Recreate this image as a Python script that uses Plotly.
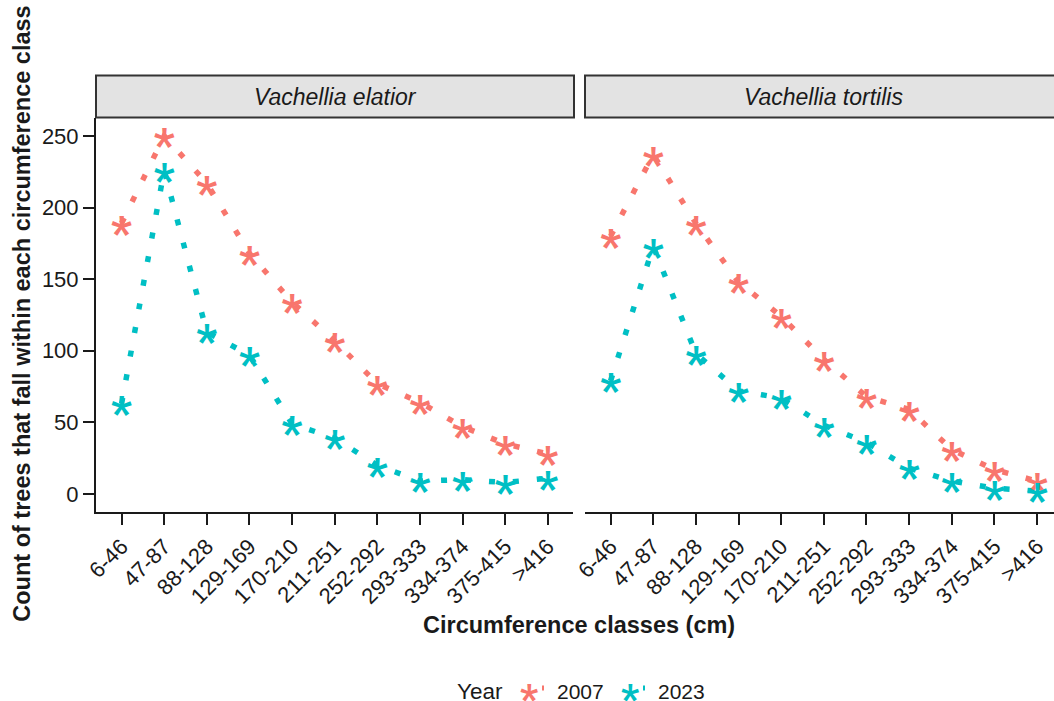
import plotly.graph_objects as go

# Circumference classes (cm) and tree counts per species and survey year
classes = ["6-46", "47-87", "88-128", "129-169", "170-210", "211-251",
           "252-292", "293-333", "334-374", "375-415", ">416"]
species = ["Vachellia elatior", "Vachellia tortilis"]
years = ["2007", "2023"]
elatior_2007 = [189, 250, 217, 168, 134, 107, 77, 64, 47, 35, 28]
elatior_2023 = [63, 226, 113, 97, 49, 39, 20, 9, 10, 8, 11]
tortilis_2007 = [180, 237, 189, 148, 124, 94, 68, 59, 31, 17, 9]
tortilis_2023 = [79, 173, 98, 72, 67, 48, 36, 18, 9, 4, 2]
y_ticks = [0, 50, 100, 150, 200, 250]

colors = {"2007": "#F8766D", "2023": "#00BFC4"}
series = {
    ("Vachellia elatior", "2007"): elatior_2007,
    ("Vachellia elatior", "2023"): elatior_2023,
    ("Vachellia tortilis", "2007"): tortilis_2007,
    ("Vachellia tortilis", "2023"): tortilis_2023,
}

W, H = 1054, 701
FONT = "Liberation Sans, Arial, sans-serif"
GLYPH_FONT = "Roboto, sans-serif"
INK = "#1a1a1a"

# panel geometry in pixels
left_x0, left_x1 = 96, 573.3
right_x0 = 585
cat_px = 42.65
plot_top, plot_bot = 117.5, 512
y_lo, y_hi = -12.6, 262.9

# the asterisk glyph sits above its text anchor; shift its axis down
GLYPH_SIZE = 46
glyph_lift_px = 0.30 * GLYPH_SIZE
glyph_shift = glyph_lift_px * (y_hi - y_lo) / (plot_bot - plot_top)


def px(x):
    return x / W


def py(y):
    return 1 - y / H


fig = go.Figure()

axis_pairs = {
    "Vachellia elatior": ("x", "y", "y3"),
    "Vachellia tortilis": ("x2", "y2", "y4"),
}

for sp in species:
    xa, ya, ya_glyph = axis_pairs[sp]
    for yr in years:
        vals = series[(sp, yr)]
        fig.add_trace(go.Scatter(
            x=classes, y=vals, mode="lines", xaxis=xa, yaxis=ya,
            line=dict(color=colors[yr], width=5.5, dash="6px,18px"),
            showlegend=False, hoverinfo="skip",
        ))
        fig.add_trace(go.Scatter(
            x=classes, y=vals, mode="text", xaxis=xa, yaxis=ya_glyph,
            text=["*"] * len(vals), textposition="middle center",
            textfont=dict(family=GLYPH_FONT, size=GLYPH_SIZE, color=colors[yr],
                          weight="bold"),
            cliponaxis=False, showlegend=False,
            name=yr, hovertemplate="%{x}: %{y}<extra>" + yr + "</extra>",
        ))

n = len(classes)
tick_font = dict(family=FONT, size=22, color=INK)
x_common = dict(
    type="category", categoryorder="array", categoryarray=classes,
    showline=True, linecolor=INK, linewidth=2,
    ticks="outside", ticklen=11, tickwidth=2, tickcolor=INK,
    tickangle=-45, tickfont=tick_font, showgrid=False, zeroline=False,
    fixedrange=True, automargin=False,
)
right_span = (W - right_x0) / cat_px

fig.update_layout(
    width=W, height=H,
    margin=dict(l=0, r=0, t=0, b=0, autoexpand=False),
    paper_bgcolor="white", plot_bgcolor="white",
    showlegend=False,
    xaxis=dict(x_common, domain=[px(left_x0), px(left_x1)], range=[-0.6, n - 0.4], anchor="y"),
    xaxis2=dict(x_common, domain=[px(right_x0), 1.0], range=[-0.6, -0.6 + right_span], anchor="y2"),
    yaxis=dict(
        domain=[py(plot_bot), py(plot_top)], range=[y_lo, y_hi], anchor="x",
        showline=True, linecolor=INK, linewidth=2,
        ticks="outside", ticklen=11, tickwidth=2, tickcolor=INK,
        tickvals=y_ticks, tickfont=tick_font, showgrid=False, zeroline=False,
        fixedrange=True, automargin=False,
    ),
    yaxis2=dict(
        domain=[py(plot_bot), py(plot_top)], range=[y_lo, y_hi], anchor="x2",
        showline=False, showticklabels=False, ticks="", showgrid=False,
        zeroline=False, fixedrange=True, automargin=False,
    ),
    yaxis3=dict(overlaying="y", range=[y_lo + glyph_shift, y_hi + glyph_shift],
                visible=False, fixedrange=True, automargin=False),
    yaxis4=dict(overlaying="y2", range=[y_lo + glyph_shift, y_hi + glyph_shift],
                visible=False, fixedrange=True, automargin=False),
)

# facet strips
strip_top, strip_bot = 75.5, 117.5
shapes = [
    dict(type="rect", xref="paper", yref="paper",
         x0=px(left_x0), x1=px(574), y0=py(strip_bot), y1=py(strip_top),
         fillcolor="#E3E3E3", line=dict(color="#333333", width=2), layer="below"),
    dict(type="rect", xref="paper", yref="paper",
         x0=px(right_x0), x1=px(W + 20), y0=py(strip_bot), y1=py(strip_top),
         fillcolor="#E3E3E3", line=dict(color="#333333", width=2), layer="below"),
]

annotations = []
strip_centers = [(left_x0 + 574) / 2, (right_x0 + right_x0 + 11.2 * cat_px) / 2]
for sp, cx in zip(species, strip_centers):
    annotations.append(dict(
        x=px(cx), y=py((strip_top + strip_bot) / 2), xref="paper", yref="paper",
        text="<i>" + sp + "</i>", showarrow=False, xanchor="center", yanchor="middle",
        font=dict(family=FONT, size=23, color=INK),
    ))

# axis titles
annotations.append(dict(
    x=px((left_x0 + right_x0 + 11.2 * cat_px) / 2), y=py(625), xref="paper", yref="paper",
    text="<b>Circumference classes (cm)</b>", showarrow=False,
    xanchor="center", yanchor="middle", font=dict(family=FONT, size=23.5, color=INK),
))
annotations.append(dict(
    x=px(22), y=py((plot_top + plot_bot) / 2 - 1), xref="paper", yref="paper",
    text="<b>Count of trees that fall within each circumference class</b>",
    showarrow=False, textangle=-90, xanchor="center", yanchor="middle",
    font=dict(family=FONT, size=23.5, color=INK),
))

# legend
leg_y = 691
annotations.append(dict(
    x=px(480), y=py(leg_y), xref="paper", yref="paper", text="Year",
    showarrow=False, xanchor="center", yanchor="middle",
    font=dict(family=FONT, size=22.5, color=INK),
))
for yr, kx in zip(years, [529, 630]):
    annotations.append(dict(
        x=px(kx), y=py(leg_y), xref="paper", yref="paper", text="<b>*</b>",
        showarrow=False, xanchor="center", yanchor="middle", yshift=-8,
        font=dict(family=GLYPH_FONT, size=40, color=colors[yr]),
    ))
    shapes.append(dict(
        type="line", xref="paper", yref="paper",
        x0=px(kx + 13), x1=px(kx + 15), y0=py(688), y1=py(688),
        line=dict(color=colors[yr], width=5),
    ))
    annotations.append(dict(
        x=px(kx + 51), y=py(leg_y), xref="paper", yref="paper", text=yr,
        showarrow=False, xanchor="center", yanchor="middle",
        font=dict(family=FONT, size=21, color=INK),
    ))

fig.update_layout(shapes=shapes, annotations=annotations)
fig.write_html("out.html")
